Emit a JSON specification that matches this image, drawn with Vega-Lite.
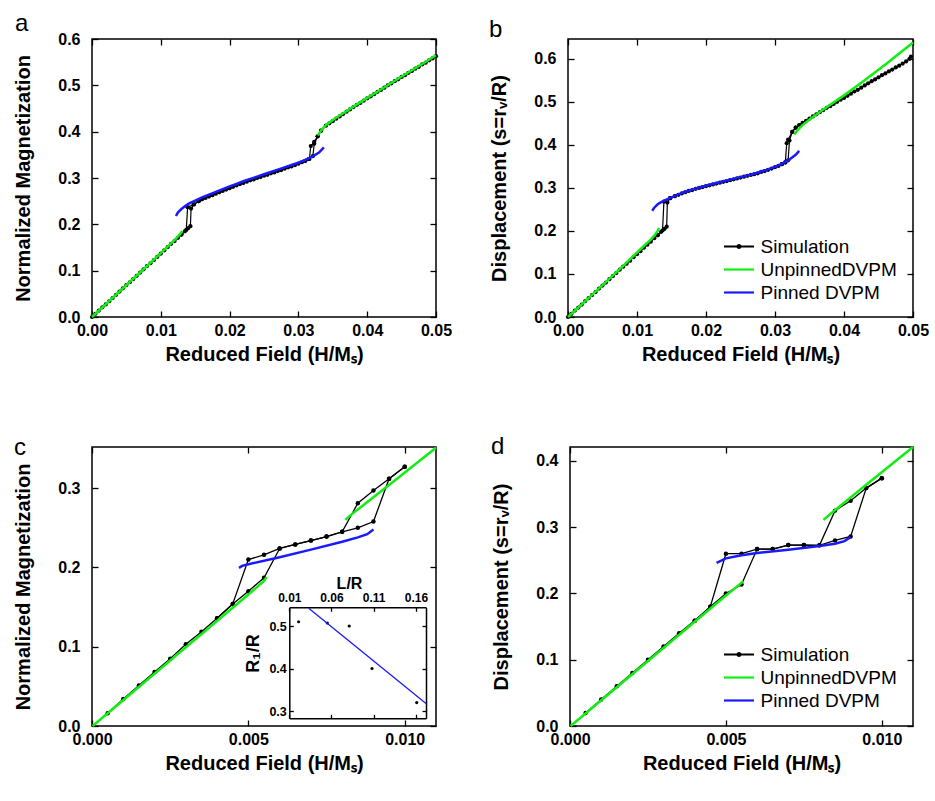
{
"$schema":"https://vega.github.io/schema/vega-lite/v6.json",
"background":"white",
"padding":{"left":12,"top":11,"right":5,"bottom":10},
"config":{
 "font":"Liberation Sans",
 "view":{"stroke":"black","strokeWidth":1.5},
 "axis":{"grid":false,"domain":false,"ticks":true,"tickColor":"black","tickSize":-6,"tickWidth":1.3,"labelFont":"Liberation Sans","labelFontWeight":"bold","labelFontSize":16,"labelColor":"black","labelFlush":false,"labelOverlap":false,"titleFont":"Liberation Sans","titleFontWeight":"bold","titleFontSize":20,"titleColor":"black"},
 "axisBottom":{"labelPadding":11,"minExtent":24,"maxExtent":24,"titlePadding":3.5},
 "axisLeft":{"labelPadding":18,"minExtent":40,"maxExtent":40,"titlePadding":19},
 "title":{"font":"Liberation Sans","fontSize":24,"fontWeight":"normal","color":"black","anchor":"start","frame":"group","baseline":"alphabetic"},
 "legend":{"title":null,"orient":"none","symbolType":{"expr":"datum.value === 'Simulation' ? 'M-2,0H2M-0.2,0A0.2,0.2,0,1,0,0.2,0A0.2,0.2,0,1,0,-0.2,0Z' : 'M-2,0H2'"},"symbolSize":225,"symbolStrokeWidth":2.2,"labelFontSize":19,"labelFont":"Liberation Sans","labelColor":"black","labelOffset":12,"rowPadding":3,"padding":0}
},
"datasets":{
"simA":[
{"g":"u","x":0,"y":0},{"g":"u","x":0.0005,"y":0.007},{"g":"u","x":0.001,"y":0.014},{"g":"u","x":0.0015,"y":0.021},{"g":"u","x":0.002,"y":0.027},{"g":"u","x":0.0025,"y":0.034},{"g":"u","x":0.003,"y":0.041},{"g":"u","x":0.0035,"y":0.048},{"g":"u","x":0.004,"y":0.055},{"g":"u","x":0.0045,"y":0.062},{"g":"u","x":0.005,"y":0.069},{"g":"u","x":0.0055,"y":0.075},{"g":"u","x":0.006,"y":0.082},{"g":"u","x":0.0065,"y":0.089},{"g":"u","x":0.007,"y":0.096},{"g":"u","x":0.0075,"y":0.103},{"g":"u","x":0.008,"y":0.110},{"g":"u","x":0.0085,"y":0.116},{"g":"u","x":0.009,"y":0.123},{"g":"u","x":0.0095,"y":0.130},{"g":"u","x":0.010,"y":0.137},{"g":"u","x":0.0105,"y":0.144},{"g":"u","x":0.011,"y":0.151},{"g":"u","x":0.0115,"y":0.158},{"g":"u","x":0.012,"y":0.164},{"g":"u","x":0.0125,"y":0.171},{"g":"u","x":0.013,"y":0.178},{"g":"u","x":0.0135,"y":0.185},{"g":"u","x":0.014,"y":0.192},{"g":"u","x":0.0143,"y":0.196},{"g":"u","x":0.0144,"y":0.234},{"g":"u","x":0.0148,"y":0.243},{"g":"u","x":0.0155,"y":0.250},{"g":"u","x":0.016,"y":0.254},{"g":"u","x":0.0165,"y":0.257},{"g":"u","x":0.017,"y":0.260},{"g":"u","x":0.0175,"y":0.263},{"g":"u","x":0.018,"y":0.266},{"g":"u","x":0.0185,"y":0.269},{"g":"u","x":0.019,"y":0.272},{"g":"u","x":0.0195,"y":0.275},{"g":"u","x":0.020,"y":0.278},{"g":"u","x":0.0205,"y":0.281},{"g":"u","x":0.021,"y":0.284},{"g":"u","x":0.0215,"y":0.287},{"g":"u","x":0.022,"y":0.289},{"g":"u","x":0.0225,"y":0.292},{"g":"u","x":0.023,"y":0.295},{"g":"u","x":0.0235,"y":0.297},{"g":"u","x":0.024,"y":0.300},{"g":"u","x":0.0245,"y":0.302},{"g":"u","x":0.025,"y":0.305},{"g":"u","x":0.0255,"y":0.307},{"g":"u","x":0.026,"y":0.310},{"g":"u","x":0.0265,"y":0.312},{"g":"u","x":0.027,"y":0.315},{"g":"u","x":0.0275,"y":0.317},{"g":"u","x":0.028,"y":0.320},{"g":"u","x":0.0285,"y":0.323},{"g":"u","x":0.029,"y":0.325},{"g":"u","x":0.0295,"y":0.328},{"g":"u","x":0.030,"y":0.331},{"g":"u","x":0.0305,"y":0.334},{"g":"u","x":0.031,"y":0.337},{"g":"u","x":0.0315,"y":0.341},{"g":"u","x":0.0321,"y":0.347},{"g":"u","x":0.0323,"y":0.374},{"g":"u","x":0.0328,"y":0.390},{"g":"u","x":0.0333,"y":0.402},{"g":"u","x":0.034,"y":0.413},{"g":"u","x":0.0345,"y":0.418},{"g":"u","x":0.035,"y":0.423},{"g":"u","x":0.0355,"y":0.428},{"g":"u","x":0.036,"y":0.433},{"g":"u","x":0.0365,"y":0.438},{"g":"u","x":0.037,"y":0.443},{"g":"u","x":0.0375,"y":0.448},{"g":"u","x":0.038,"y":0.453},{"g":"u","x":0.0385,"y":0.458},{"g":"u","x":0.039,"y":0.462},{"g":"u","x":0.0395,"y":0.467},{"g":"u","x":0.040,"y":0.472},{"g":"u","x":0.0405,"y":0.476},{"g":"u","x":0.041,"y":0.481},{"g":"u","x":0.0415,"y":0.486},{"g":"u","x":0.042,"y":0.490},{"g":"u","x":0.0425,"y":0.495},{"g":"u","x":0.043,"y":0.500},{"g":"u","x":0.0435,"y":0.504},{"g":"u","x":0.044,"y":0.509},{"g":"u","x":0.0445,"y":0.513},{"g":"u","x":0.045,"y":0.518},{"g":"u","x":0.0455,"y":0.522},{"g":"u","x":0.046,"y":0.527},{"g":"u","x":0.0465,"y":0.531},{"g":"u","x":0.047,"y":0.536},{"g":"u","x":0.0475,"y":0.540},{"g":"u","x":0.048,"y":0.545},{"g":"u","x":0.0485,"y":0.549},{"g":"u","x":0.049,"y":0.554},{"g":"u","x":0.0495,"y":0.558},{"g":"u","x":0.050,"y":0.563},
{"g":"d1","x":0.0333,"y":0.402},{"g":"d1","x":0.0328,"y":0.390},{"g":"d1","x":0.0323,"y":0.378},{"g":"d1","x":0.0318,"y":0.369},{"g":"d1","x":0.0316,"y":0.341},{"g":"d1","x":0.031,"y":0.337},
{"g":"d2","x":0.0155,"y":0.250},{"g":"d2","x":0.0148,"y":0.243},{"g":"d2","x":0.0139,"y":0.237},{"g":"d2","x":0.0137,"y":0.188},{"g":"d2","x":0.013,"y":0.178}
],
"modA":[
{"s":"UnpinnedDVPM","k":1,"x":0,"y":0},{"s":"UnpinnedDVPM","k":1,"x":0.004,"y":0.055},{"s":"UnpinnedDVPM","k":1,"x":0.008,"y":0.110},{"s":"UnpinnedDVPM","k":1,"x":0.011,"y":0.152},{"s":"UnpinnedDVPM","k":1,"x":0.012,"y":0.166},{"s":"UnpinnedDVPM","k":1,"x":0.0125,"y":0.174},{"s":"UnpinnedDVPM","k":1,"x":0.013,"y":0.183},{"s":"UnpinnedDVPM","k":1,"x":0.0131,"y":0.186},
{"s":"UnpinnedDVPM","k":2,"x":0.0328,"y":0.392},{"s":"UnpinnedDVPM","k":2,"x":0.0333,"y":0.403},{"s":"UnpinnedDVPM","k":2,"x":0.034,"y":0.414},{"s":"UnpinnedDVPM","k":2,"x":0.035,"y":0.425},{"s":"UnpinnedDVPM","k":2,"x":0.036,"y":0.435},{"s":"UnpinnedDVPM","k":2,"x":0.038,"y":0.454},{"s":"UnpinnedDVPM","k":2,"x":0.040,"y":0.473},{"s":"UnpinnedDVPM","k":2,"x":0.042,"y":0.491},{"s":"UnpinnedDVPM","k":2,"x":0.045,"y":0.519},{"s":"UnpinnedDVPM","k":2,"x":0.048,"y":0.546},{"s":"UnpinnedDVPM","k":2,"x":0.050,"y":0.565},
{"s":"Pinned DVPM","k":3,"x":0.0122,"y":0.218},{"s":"Pinned DVPM","k":3,"x":0.0125,"y":0.226},{"s":"Pinned DVPM","k":3,"x":0.013,"y":0.233},{"s":"Pinned DVPM","k":3,"x":0.0135,"y":0.239},{"s":"Pinned DVPM","k":3,"x":0.014,"y":0.244},{"s":"Pinned DVPM","k":3,"x":0.015,"y":0.251},{"s":"Pinned DVPM","k":3,"x":0.016,"y":0.258},{"s":"Pinned DVPM","k":3,"x":0.017,"y":0.264},{"s":"Pinned DVPM","k":3,"x":0.018,"y":0.270},{"s":"Pinned DVPM","k":3,"x":0.019,"y":0.276},{"s":"Pinned DVPM","k":3,"x":0.020,"y":0.282},{"s":"Pinned DVPM","k":3,"x":0.021,"y":0.287},{"s":"Pinned DVPM","k":3,"x":0.022,"y":0.293},{"s":"Pinned DVPM","k":3,"x":0.023,"y":0.298},{"s":"Pinned DVPM","k":3,"x":0.024,"y":0.303},{"s":"Pinned DVPM","k":3,"x":0.025,"y":0.308},{"s":"Pinned DVPM","k":3,"x":0.026,"y":0.313},{"s":"Pinned DVPM","k":3,"x":0.027,"y":0.318},{"s":"Pinned DVPM","k":3,"x":0.028,"y":0.323},{"s":"Pinned DVPM","k":3,"x":0.029,"y":0.328},{"s":"Pinned DVPM","k":3,"x":0.030,"y":0.333},{"s":"Pinned DVPM","k":3,"x":0.031,"y":0.339},{"s":"Pinned DVPM","k":3,"x":0.032,"y":0.346},{"s":"Pinned DVPM","k":3,"x":0.033,"y":0.355},{"s":"Pinned DVPM","k":3,"x":0.0337,"y":0.366}
],
"simB":[
{"g":"u","x":0,"y":0},{"g":"u","x":0.0005,"y":0.007},{"g":"u","x":0.001,"y":0.015},{"g":"u","x":0.0015,"y":0.022},{"g":"u","x":0.002,"y":0.029},{"g":"u","x":0.0025,"y":0.037},{"g":"u","x":0.003,"y":0.044},{"g":"u","x":0.0035,"y":0.051},{"g":"u","x":0.004,"y":0.058},{"g":"u","x":0.0045,"y":0.066},{"g":"u","x":0.005,"y":0.073},{"g":"u","x":0.0055,"y":0.080},{"g":"u","x":0.006,"y":0.088},{"g":"u","x":0.0065,"y":0.095},{"g":"u","x":0.007,"y":0.102},{"g":"u","x":0.0075,"y":0.110},{"g":"u","x":0.008,"y":0.117},{"g":"u","x":0.0085,"y":0.124},{"g":"u","x":0.009,"y":0.131},{"g":"u","x":0.0095,"y":0.139},{"g":"u","x":0.010,"y":0.146},{"g":"u","x":0.0105,"y":0.153},{"g":"u","x":0.011,"y":0.161},{"g":"u","x":0.0115,"y":0.168},{"g":"u","x":0.012,"y":0.175},{"g":"u","x":0.0125,"y":0.183},{"g":"u","x":0.013,"y":0.190},{"g":"u","x":0.0135,"y":0.198},{"g":"u","x":0.014,"y":0.205},{"g":"u","x":0.0143,"y":0.210},{"g":"u","x":0.0144,"y":0.266},{"g":"u","x":0.0148,"y":0.276},{"g":"u","x":0.0155,"y":0.281},{"g":"u","x":0.016,"y":0.284},{"g":"u","x":0.0165,"y":0.287},{"g":"u","x":0.017,"y":0.290},{"g":"u","x":0.0175,"y":0.293},{"g":"u","x":0.018,"y":0.295},{"g":"u","x":0.0185,"y":0.298},{"g":"u","x":0.019,"y":0.300},{"g":"u","x":0.0195,"y":0.302},{"g":"u","x":0.020,"y":0.304},{"g":"u","x":0.0205,"y":0.306},{"g":"u","x":0.021,"y":0.308},{"g":"u","x":0.0215,"y":0.310},{"g":"u","x":0.022,"y":0.312},{"g":"u","x":0.0225,"y":0.314},{"g":"u","x":0.023,"y":0.316},{"g":"u","x":0.0235,"y":0.318},{"g":"u","x":0.024,"y":0.320},{"g":"u","x":0.0245,"y":0.322},{"g":"u","x":0.025,"y":0.324},{"g":"u","x":0.0255,"y":0.326},{"g":"u","x":0.026,"y":0.328},{"g":"u","x":0.0265,"y":0.330},{"g":"u","x":0.027,"y":0.332},{"g":"u","x":0.0275,"y":0.334},{"g":"u","x":0.028,"y":0.337},{"g":"u","x":0.0285,"y":0.339},{"g":"u","x":0.029,"y":0.342},{"g":"u","x":0.0295,"y":0.345},{"g":"u","x":0.030,"y":0.348},{"g":"u","x":0.0305,"y":0.351},{"g":"u","x":0.031,"y":0.355},{"g":"u","x":0.0315,"y":0.359},{"g":"u","x":0.0319,"y":0.364},{"g":"u","x":0.0321,"y":0.410},{"g":"u","x":0.0325,"y":0.430},{"g":"u","x":0.033,"y":0.440},{"g":"u","x":0.0335,"y":0.446},{"g":"u","x":0.034,"y":0.451},{"g":"u","x":0.0345,"y":0.456},{"g":"u","x":0.035,"y":0.461},{"g":"u","x":0.0355,"y":0.466},{"g":"u","x":0.036,"y":0.471},{"g":"u","x":0.0365,"y":0.476},{"g":"u","x":0.037,"y":0.481},{"g":"u","x":0.0375,"y":0.486},{"g":"u","x":0.038,"y":0.490},{"g":"u","x":0.0385,"y":0.495},{"g":"u","x":0.039,"y":0.500},{"g":"u","x":0.0395,"y":0.505},{"g":"u","x":0.040,"y":0.509},{"g":"u","x":0.0405,"y":0.514},{"g":"u","x":0.041,"y":0.519},{"g":"u","x":0.0415,"y":0.524},{"g":"u","x":0.042,"y":0.528},{"g":"u","x":0.0425,"y":0.533},{"g":"u","x":0.043,"y":0.538},{"g":"u","x":0.0435,"y":0.543},{"g":"u","x":0.044,"y":0.548},{"g":"u","x":0.0445,"y":0.552},{"g":"u","x":0.045,"y":0.557},{"g":"u","x":0.0455,"y":0.562},{"g":"u","x":0.046,"y":0.566},{"g":"u","x":0.0465,"y":0.571},{"g":"u","x":0.047,"y":0.575},{"g":"u","x":0.0475,"y":0.580},{"g":"u","x":0.048,"y":0.584},{"g":"u","x":0.0485,"y":0.589},{"g":"u","x":0.049,"y":0.594},{"g":"u","x":0.0495,"y":0.600},{"g":"u","x":0.0497,"y":0.605},
{"g":"d1","x":0.033,"y":0.440},{"g":"d1","x":0.0325,"y":0.430},{"g":"d1","x":0.0319,"y":0.412},{"g":"d1","x":0.0317,"y":0.404},{"g":"d1","x":0.0315,"y":0.360},{"g":"d1","x":0.031,"y":0.355},
{"g":"d2","x":0.0155,"y":0.281},{"g":"d2","x":0.0148,"y":0.276},{"g":"d2","x":0.0139,"y":0.268},{"g":"d2","x":0.0137,"y":0.201},{"g":"d2","x":0.013,"y":0.190}
],
"modB":[
{"s":"UnpinnedDVPM","k":1,"x":0,"y":0},{"s":"UnpinnedDVPM","k":1,"x":0.004,"y":0.059},{"s":"UnpinnedDVPM","k":1,"x":0.008,"y":0.119},{"s":"UnpinnedDVPM","k":1,"x":0.011,"y":0.165},{"s":"UnpinnedDVPM","k":1,"x":0.012,"y":0.180},{"s":"UnpinnedDVPM","k":1,"x":0.0125,"y":0.189},{"s":"UnpinnedDVPM","k":1,"x":0.013,"y":0.200},{"s":"UnpinnedDVPM","k":1,"x":0.0132,"y":0.207},
{"s":"UnpinnedDVPM","k":2,"x":0.0328,"y":0.424},{"s":"UnpinnedDVPM","k":2,"x":0.0333,"y":0.435},{"s":"UnpinnedDVPM","k":2,"x":0.034,"y":0.446},{"s":"UnpinnedDVPM","k":2,"x":0.035,"y":0.459},{"s":"UnpinnedDVPM","k":2,"x":0.037,"y":0.482},{"s":"UnpinnedDVPM","k":2,"x":0.040,"y":0.515},{"s":"UnpinnedDVPM","k":2,"x":0.043,"y":0.550},{"s":"UnpinnedDVPM","k":2,"x":0.046,"y":0.587},{"s":"UnpinnedDVPM","k":2,"x":0.050,"y":0.638},
{"s":"Pinned DVPM","k":3,"x":0.0122,"y":0.247},{"s":"Pinned DVPM","k":3,"x":0.0125,"y":0.254},{"s":"Pinned DVPM","k":3,"x":0.013,"y":0.262},{"s":"Pinned DVPM","k":3,"x":0.0135,"y":0.267},{"s":"Pinned DVPM","k":3,"x":0.014,"y":0.271},{"s":"Pinned DVPM","k":3,"x":0.015,"y":0.278},{"s":"Pinned DVPM","k":3,"x":0.016,"y":0.285},{"s":"Pinned DVPM","k":3,"x":0.017,"y":0.291},{"s":"Pinned DVPM","k":3,"x":0.018,"y":0.296},{"s":"Pinned DVPM","k":3,"x":0.019,"y":0.301},{"s":"Pinned DVPM","k":3,"x":0.020,"y":0.305},{"s":"Pinned DVPM","k":3,"x":0.021,"y":0.309},{"s":"Pinned DVPM","k":3,"x":0.022,"y":0.313},{"s":"Pinned DVPM","k":3,"x":0.023,"y":0.317},{"s":"Pinned DVPM","k":3,"x":0.024,"y":0.321},{"s":"Pinned DVPM","k":3,"x":0.025,"y":0.325},{"s":"Pinned DVPM","k":3,"x":0.026,"y":0.329},{"s":"Pinned DVPM","k":3,"x":0.027,"y":0.333},{"s":"Pinned DVPM","k":3,"x":0.028,"y":0.338},{"s":"Pinned DVPM","k":3,"x":0.029,"y":0.343},{"s":"Pinned DVPM","k":3,"x":0.030,"y":0.349},{"s":"Pinned DVPM","k":3,"x":0.031,"y":0.356},{"s":"Pinned DVPM","k":3,"x":0.032,"y":0.365},{"s":"Pinned DVPM","k":3,"x":0.033,"y":0.377},{"s":"Pinned DVPM","k":3,"x":0.0335,"y":0.386}
],
"simC":[
{"g":"u","x":0.0005,"y":0.016},{"g":"u","x":0.001,"y":0.034},{"g":"u","x":0.0015,"y":0.051},{"g":"u","x":0.002,"y":0.068},{"g":"u","x":0.0025,"y":0.085},{"g":"u","x":0.003,"y":0.103},{"g":"u","x":0.0035,"y":0.119},{"g":"u","x":0.004,"y":0.136},{"g":"u","x":0.0045,"y":0.154},{"g":"u","x":0.005,"y":0.170},{"g":"u","x":0.0055,"y":0.187},{"g":"u","x":0.006,"y":0.224},{"g":"u","x":0.0065,"y":0.229},{"g":"u","x":0.007,"y":0.234},{"g":"u","x":0.0075,"y":0.239},{"g":"u","x":0.008,"y":0.245},{"g":"u","x":0.0085,"y":0.250},{"g":"u","x":0.009,"y":0.258},{"g":"u","x":0.0095,"y":0.312},{"g":"u","x":0.010,"y":0.327},
{"g":"d","x":0.010,"y":0.327},{"g":"d","x":0.0095,"y":0.312},{"g":"d","x":0.009,"y":0.297},{"g":"d","x":0.0085,"y":0.281},{"g":"d","x":0.008,"y":0.245},{"g":"d","x":0.0075,"y":0.239},{"g":"d","x":0.007,"y":0.234},{"g":"d","x":0.0065,"y":0.229},{"g":"d","x":0.006,"y":0.224},{"g":"d","x":0.0055,"y":0.216},{"g":"d","x":0.005,"y":0.210},{"g":"d","x":0.0045,"y":0.154},{"g":"d","x":0.004,"y":0.136}
],
"modC":[
{"s":"UnpinnedDVPM","k":1,"x":0.00002,"y":0},{"s":"UnpinnedDVPM","k":1,"x":0.005,"y":0.166},{"s":"UnpinnedDVPM","k":1,"x":0.0055,"y":0.183},{"s":"UnpinnedDVPM","k":1,"x":0.00558,"y":0.188},
{"s":"UnpinnedDVPM","k":2,"x":0.0081,"y":0.260},{"s":"UnpinnedDVPM","k":2,"x":0.0083,"y":0.267},{"s":"UnpinnedDVPM","k":2,"x":0.0095,"y":0.304},{"s":"UnpinnedDVPM","k":2,"x":0.011,"y":0.351},
{"s":"Pinned DVPM","k":3,"x":0.0047,"y":0.1995},{"s":"Pinned DVPM","k":3,"x":0.0048,"y":0.202},{"s":"Pinned DVPM","k":3,"x":0.005,"y":0.204},{"s":"Pinned DVPM","k":3,"x":0.006,"y":0.213},{"s":"Pinned DVPM","k":3,"x":0.007,"y":0.2225},{"s":"Pinned DVPM","k":3,"x":0.008,"y":0.2325},{"s":"Pinned DVPM","k":3,"x":0.0085,"y":0.238},{"s":"Pinned DVPM","k":3,"x":0.0088,"y":0.242},{"s":"Pinned DVPM","k":3,"x":0.009,"y":0.248}
],
"insetPts":[{"lr":0.021,"r1":0.51},{"lr":0.055,"r1":0.507},{"lr":0.081,"r1":0.50},{"lr":0.108,"r1":0.40},{"lr":0.161,"r1":0.32}],
"insetFit":[{"lr":0.033,"r1":0.542},{"lr":0.172,"r1":0.318}],
"simD":[
{"g":"u","x":0.0005,"y":0.0195},{"g":"u","x":0.001,"y":0.040},{"g":"u","x":0.0015,"y":0.060},{"g":"u","x":0.002,"y":0.080},{"g":"u","x":0.0025,"y":0.100},{"g":"u","x":0.003,"y":0.120},{"g":"u","x":0.0035,"y":0.140},{"g":"u","x":0.004,"y":0.159},{"g":"u","x":0.0045,"y":0.180},{"g":"u","x":0.005,"y":0.200},{"g":"u","x":0.0055,"y":0.2135},{"g":"u","x":0.006,"y":0.267},{"g":"u","x":0.0065,"y":0.267},{"g":"u","x":0.007,"y":0.273},{"g":"u","x":0.0075,"y":0.273},{"g":"u","x":0.008,"y":0.2726},{"g":"u","x":0.0085,"y":0.280},{"g":"u","x":0.009,"y":0.286},{"g":"u","x":0.0095,"y":0.359},{"g":"u","x":0.010,"y":0.374},
{"g":"d","x":0.010,"y":0.374},{"g":"d","x":0.0095,"y":0.359},{"g":"d","x":0.009,"y":0.340},{"g":"d","x":0.0085,"y":0.325},{"g":"d","x":0.008,"y":0.2726},{"g":"d","x":0.0075,"y":0.273},{"g":"d","x":0.007,"y":0.273},{"g":"d","x":0.0065,"y":0.267},{"g":"d","x":0.006,"y":0.267},{"g":"d","x":0.0055,"y":0.260},{"g":"d","x":0.005,"y":0.260},{"g":"d","x":0.0045,"y":0.180},{"g":"d","x":0.004,"y":0.159}
],
"modD":[
{"s":"UnpinnedDVPM","k":1,"x":0.00002,"y":0},{"s":"UnpinnedDVPM","k":1,"x":0.005,"y":0.197},{"s":"UnpinnedDVPM","k":1,"x":0.0055,"y":0.216},{"s":"UnpinnedDVPM","k":1,"x":0.00556,"y":0.2185},
{"s":"UnpinnedDVPM","k":2,"x":0.00813,"y":0.311},{"s":"UnpinnedDVPM","k":2,"x":0.0083,"y":0.318},{"s":"UnpinnedDVPM","k":2,"x":0.0095,"y":0.364},{"s":"UnpinnedDVPM","k":2,"x":0.011,"y":0.421},
{"s":"Pinned DVPM","k":3,"x":0.0047,"y":0.246},{"s":"Pinned DVPM","k":3,"x":0.005,"y":0.253},{"s":"Pinned DVPM","k":3,"x":0.0055,"y":0.2575},{"s":"Pinned DVPM","k":3,"x":0.006,"y":0.261},{"s":"Pinned DVPM","k":3,"x":0.007,"y":0.266},{"s":"Pinned DVPM","k":3,"x":0.008,"y":0.2715},{"s":"Pinned DVPM","k":3,"x":0.0085,"y":0.275},{"s":"Pinned DVPM","k":3,"x":0.0088,"y":0.279},{"s":"Pinned DVPM","k":3,"x":0.009,"y":0.285}
]
},
"vconcat":[
{"hconcat":[
 {"width":344,"height":278,
  "title":{"text":"a","dx":-77,"offset":-5},
  "layer":[
   {"data":{"name":"simA"},"mark":{"type":"line","color":"black","strokeWidth":1.2},
    "encoding":{
     "x":{"field":"x","type":"quantitative","scale":{"domain":[0,0.05],"nice":false,"zero":false},"axis":{"orient":"bottom","values":[0,0.01,0.02,0.03,0.04,0.05],"format":".2f","title":"Reduced Field (H/Mₛ)"}},
     "y":{"field":"y","type":"quantitative","scale":{"domain":[0,0.6],"nice":false,"zero":false},"axis":{"orient":"left","values":[0,0.1,0.2,0.3,0.4,0.5,0.6],"format":".1f","title":"Normalized Magnetization"}},
     "detail":{"field":"g"}}},
   {"data":{"name":"simA"},"mark":{"type":"point","filled":true,"color":"black","size":18,"opacity":1},
    "encoding":{
     "x":{"field":"x","type":"quantitative","scale":{"domain":[0,0.05],"nice":false,"zero":false},"axis":{"orient":"top","values":[0,0.01,0.02,0.03,0.04,0.05],"labels":false,"title":null}},
     "y":{"field":"y","type":"quantitative","scale":{"domain":[0,0.6],"nice":false,"zero":false},"axis":{"orient":"right","values":[0,0.1,0.2,0.3,0.4,0.5,0.6],"labels":false,"title":null}}}},
   {"data":{"name":"modA"},"mark":{"type":"line","strokeWidth":2.5},
    "encoding":{
     "x":{"field":"x","type":"quantitative","scale":{"domain":[0,0.05],"nice":false,"zero":false},"axis":null},
     "y":{"field":"y","type":"quantitative","scale":{"domain":[0,0.6],"nice":false,"zero":false},"axis":null},
     "color":{"field":"s","type":"nominal","scale":{"domain":["Simulation","UnpinnedDVPM","Pinned DVPM"],"range":["#000000","#11ee11","#1a1aff"]},"legend":null},
     "detail":{"field":"k"}}}
  ],
  "resolve":{"axis":{"x":"independent","y":"independent"}}
 },
 {"width":345,"height":278,
  "title":{"text":"b","dx":-79,"offset":-5},
  "layer":[
   {"data":{"name":"simB"},"mark":{"type":"line","strokeWidth":1.2},
    "encoding":{
     "x":{"field":"x","type":"quantitative","scale":{"domain":[0,0.05],"nice":false,"zero":false},"axis":{"orient":"bottom","values":[0,0.01,0.02,0.03,0.04,0.05],"format":".2f","title":"Reduced Field (H/Mₛ)"}},
     "y":{"field":"y","type":"quantitative","scale":{"domain":[0,0.646],"nice":false,"zero":false},"axis":{"orient":"left","values":[0,0.1,0.2,0.3,0.4,0.5,0.6],"format":".1f","title":"Displacement (s=rᵥ/R)"}},
     "color":{"datum":"Simulation","type":"nominal","scale":{"domain":["Simulation","UnpinnedDVPM","Pinned DVPM"],"range":["#000000","#11ee11","#1a1aff"]},
       "legend":{"legendX":161.5,"legendY":198}},
     "detail":{"field":"g"}}},
   {"data":{"name":"simB"},"mark":{"type":"point","filled":true,"color":"black","size":18,"opacity":1},
    "encoding":{
     "x":{"field":"x","type":"quantitative","scale":{"domain":[0,0.05],"nice":false,"zero":false},"axis":{"orient":"top","values":[0,0.01,0.02,0.03,0.04,0.05],"labels":false,"title":null}},
     "y":{"field":"y","type":"quantitative","scale":{"domain":[0,0.646],"nice":false,"zero":false},"axis":{"orient":"right","values":[0,0.1,0.2,0.3,0.4,0.5,0.6],"labels":false,"title":null}}}},
   {"data":{"name":"modB"},"mark":{"type":"line","strokeWidth":2.5},
    "encoding":{
     "x":{"field":"x","type":"quantitative","scale":{"domain":[0,0.05],"nice":false,"zero":false},"axis":null},
     "y":{"field":"y","type":"quantitative","scale":{"domain":[0,0.646],"nice":false,"zero":false},"axis":null},
     "color":{"field":"s","type":"nominal","scale":{"domain":["Simulation","UnpinnedDVPM","Pinned DVPM"],"range":["#000000","#11ee11","#1a1aff"]},
       "legend":{"legendX":161.5,"legendY":198}},
     "detail":{"field":"k"}}}
  ],
  "resolve":{"axis":{"x":"independent","y":"independent"}}
 }
],"spacing":35,"resolve":{"scale":{"x":"independent","y":"independent","color":"independent"},"legend":{"color":"independent"}}},
{"hconcat":[
 {"width":344,"height":279,
  "title":{"text":"c","dx":-78,"offset":-17},
  "layer":[
   {"layer":[
    {"data":{"name":"simC"},"mark":{"type":"line","color":"black","strokeWidth":1.3},
     "encoding":{
      "x":{"field":"x","type":"quantitative","scale":{"domain":[0,0.011],"nice":false,"zero":false},"axis":{"orient":"bottom","values":[0,0.005,0.01],"format":".3f","title":"Reduced Field (H/Mₛ)"}},
      "y":{"field":"y","type":"quantitative","scale":{"domain":[0,0.352],"nice":false,"zero":false},"axis":{"orient":"left","values":[0,0.1,0.2,0.3],"format":".1f","title":"Normalized Magnetization"}},
      "detail":{"field":"g"}}},
    {"data":{"name":"simC"},"mark":{"type":"point","filled":true,"color":"black","size":20,"opacity":1},
     "encoding":{
      "x":{"field":"x","type":"quantitative","scale":{"domain":[0,0.011],"nice":false,"zero":false},"axis":{"orient":"top","values":[0,0.005,0.01],"labels":false,"title":null}},
      "y":{"field":"y","type":"quantitative","scale":{"domain":[0,0.352],"nice":false,"zero":false},"axis":{"orient":"right","values":[0,0.1,0.2,0.3],"labels":false,"title":null}}}},
    {"data":{"name":"modC"},"mark":{"type":"line","strokeWidth":2.5},
     "encoding":{
      "x":{"field":"x","type":"quantitative","scale":{"domain":[0,0.011],"nice":false,"zero":false},"axis":null},
      "y":{"field":"y","type":"quantitative","scale":{"domain":[0,0.352],"nice":false,"zero":false},"axis":null},
      "color":{"field":"s","type":"nominal","scale":{"domain":["Simulation","UnpinnedDVPM","Pinned DVPM"],"range":["#000000","#11ee11","#1a1aff"]},"legend":null},
      "detail":{"field":"k"}}}
   ],"resolve":{"axis":{"x":"independent","y":"independent"}}},
   {"layer":[
    {"data":{"name":"insetPts"},"mark":{"type":"point","filled":true,"color":"black","size":10,"opacity":1},
     "encoding":{
      "x":{"field":"lr","type":"quantitative","scale":{"domain":[0.01,0.172],"range":[197.3,334],"nice":false,"zero":false},
        "axis":{"orient":"top","offset":-160.3,"values":[0.01,0.06,0.11,0.16],"format":".2f","title":"L/R","titleFontSize":16,"titleX":257,"titleY":-24,"titleBaseline":"middle","labelFontSize":12,"tickSize":-4,"labelPadding":7,"domain":true,"domainColor":"black","domainWidth":1.5}},
      "y":{"field":"r1","type":"quantitative","scale":{"domain":[0.283,0.544],"range":[271.3,160.3],"nice":false,"zero":false},
        "axis":{"orient":"left","offset":-197.3,"values":[0.3,0.4,0.5],"format":".1f","title":"R₁/R","titleFontSize":18,"titleX":-36,"titleY":206,"titleBaseline":"middle","labelFontSize":12.5,"tickSize":-4,"labelPadding":7,"minExtent":22,"maxExtent":22,"domain":true,"domainColor":"black","domainWidth":1.5}}}},
    {"data":{"name":"insetFit"},"mark":{"type":"line","color":"#1a1aff","strokeWidth":1.3},
     "encoding":{
      "x":{"field":"lr","type":"quantitative","scale":{"domain":[0.01,0.172],"range":[197.3,334],"nice":false,"zero":false},
        "axis":{"orient":"bottom","offset":-7.7,"values":[0.01,0.06,0.11,0.16],"labels":false,"title":null,"tickSize":-4,"minExtent":0,"maxExtent":0,"domain":true,"domainColor":"black","domainWidth":1.5}},
      "y":{"field":"r1","type":"quantitative","scale":{"domain":[0.283,0.544],"range":[271.3,160.3],"nice":false,"zero":false},
        "axis":{"orient":"right","offset":-10,"values":[0.3,0.4,0.5],"labels":false,"title":null,"tickSize":-4,"domain":true,"domainColor":"black","domainWidth":1.5}}}}
   ],"resolve":{"axis":{"x":"independent","y":"independent"}}}
  ],
  "resolve":{"scale":{"x":"independent","y":"independent"},"axis":{"x":"independent","y":"independent"}}
 },
 {"width":343,"height":279,
  "title":{"text":"d","dx":-79,"offset":-17},
  "layer":[
   {"data":{"name":"simD"},"mark":{"type":"line","strokeWidth":1.3},
    "encoding":{
     "x":{"field":"x","type":"quantitative","scale":{"domain":[0,0.011],"nice":false,"zero":false},"axis":{"orient":"bottom","values":[0,0.005,0.01],"format":".3f","title":"Reduced Field (H/Mₛ)"}},
     "y":{"field":"y","type":"quantitative","scale":{"domain":[0,0.421],"nice":false,"zero":false},"axis":{"orient":"left","values":[0,0.1,0.2,0.3,0.4],"format":".1f","title":"Displacement (s=rᵥ/R)"}},
     "color":{"datum":"Simulation","type":"nominal","scale":{"domain":["Simulation","UnpinnedDVPM","Pinned DVPM"],"range":["#000000","#11ee11","#1a1aff"]},
       "legend":{"legendX":159.5,"legendY":198}},
     "detail":{"field":"g"}}},
   {"data":{"name":"simD"},"mark":{"type":"point","filled":true,"color":"black","size":20,"opacity":1},
    "encoding":{
     "x":{"field":"x","type":"quantitative","scale":{"domain":[0,0.011],"nice":false,"zero":false},"axis":{"orient":"top","values":[0,0.005,0.01],"labels":false,"title":null}},
     "y":{"field":"y","type":"quantitative","scale":{"domain":[0,0.421],"nice":false,"zero":false},"axis":{"orient":"right","values":[0,0.1,0.2,0.3,0.4],"labels":false,"title":null}}}},
   {"data":{"name":"modD"},"mark":{"type":"line","strokeWidth":2.5},
    "encoding":{
     "x":{"field":"x","type":"quantitative","scale":{"domain":[0,0.011],"nice":false,"zero":false},"axis":null},
     "y":{"field":"y","type":"quantitative","scale":{"domain":[0,0.421],"nice":false,"zero":false},"axis":null},
     "color":{"field":"s","type":"nominal","scale":{"domain":["Simulation","UnpinnedDVPM","Pinned DVPM"],"range":["#000000","#11ee11","#1a1aff"]},
       "legend":{"legendX":159.5,"legendY":198}},
     "detail":{"field":"k"}}}
  ],
  "resolve":{"axis":{"x":"independent","y":"independent"}}
 }
],"spacing":48,"resolve":{"scale":{"x":"independent","y":"independent","color":"independent"},"legend":{"color":"independent"}}}
],
"spacing":68,
"resolve":{"scale":{"x":"independent","y":"independent","color":"independent"},"legend":{"color":"independent"}}
}
